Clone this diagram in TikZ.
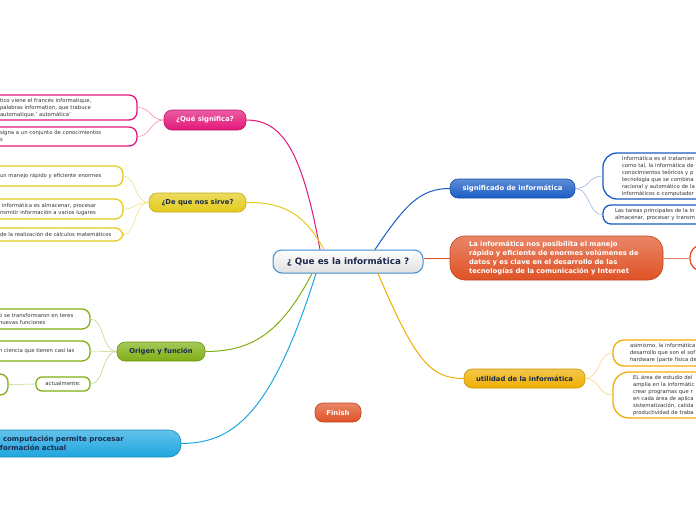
\documentclass[tikz,border=0pt]{standalone}
\usepackage{fontspec}
\setmainfont{DejaVu Sans}
\usetikzlibrary{calc}

\definecolor{rosa}{HTML}{E2177A}
\definecolor{amarillo}{HTML}{E3CB1C}
\definecolor{verde}{HTML}{7FAF14}
\definecolor{celeste}{HTML}{1FA6E0}
\definecolor{azul}{HTML}{1A5CC4}
\definecolor{naranja}{HTML}{DF5226}
\definecolor{ambar}{HTML}{F0AE00}
\definecolor{borde}{HTML}{3B8ED0}
\definecolor{gristxt}{HTML}{333333}
\definecolor{azuloscuro}{HTML}{1A2A4A}

\tikzset{
  tema/.style={draw=#1!85!black, line width=0.6pt, top color=#1!70!white, bottom color=#1,
    rounded corners=8pt, minimum height=19pt, inner sep=2pt,
    font=\fontsize{6.8}{9}\selectfont\bfseries, text=white},
  hoja/.style={draw, fill=white, rounded corners=8pt, line width=1.3pt, align=left,
    inner ysep=2pt, font=\fontsize{5.3}{7}\selectfont, text=gristxt},
  rama/.style={line width=1pt},
  sub/.style={line width=0.6pt}
}

\begin{document}
\begin{tikzpicture}[x=1pt, y=-1pt]
    \useasboundingbox (0,0) rectangle (696,520);
    \clip (0,0) rectangle (696,520);

    % Centro
    \node[draw=borde, line width=1pt, rounded corners=9pt, top color=white, bottom color=gray!25,
      minimum width=150pt, minimum height=23pt, font=\fontsize{8.8}{10}\selectfont\bfseries,
      text=azuloscuro] (ce) at (348,261.5) {¿ Que es la informática ?};

    % ¿Qué significa?
    \node[tema=rosa, minimum width=82pt, minimum height=20pt] (qs) at (205,120) {¿Qué significa?};
    \node[hoja, draw=rosa, minimum height=25pt, text width=129pt, inner xsep=8pt] (qs1) at (64.5,107.5)
      {tico viene el francés informatique,\\palabras information, que  trabuce\\automatique,' automática'};
    \node[hoja, draw=rosa, minimum height=19pt, text width=129pt, inner xsep=8pt] (qs2) at (64.5,136.5)
      {signa a un conjunto  de conocimientos\\s};

    % ¿De que nos sirve?
    \node[tema=amarillo, text=azuloscuro, minimum width=97pt] (ds) at (197.5,202.5) {¿De que nos sirve?};
    \node[hoja, draw=amarillo, minimum height=20pt, text width=115pt, inner xsep=8pt] (ds1) at (57.5,176)
      {un manejo rápido y eficiente enormes};
    \node[hoja, draw=amarillo, minimum height=20pt, text width=115pt, inner xsep=8pt] (ds2) at (57.5,209)
      {\hspace{2pt}informática es almacenar, procesar\\nsmitir información  a varios lugares};
    \node[hoja, draw=amarillo, minimum height=13pt, text width=115pt, inner xsep=8pt] (ds3) at (57.5,234.5)
      {de la realización de cálculos matemáticos};

    % Origen y función
    \node[tema=verde, text=azuloscuro, minimum width=88pt] (og) at (161,351.5) {Origen y función};
    \node[hoja, draw=verde, minimum height=20pt, text width=84pt, inner xsep=7pt] (og1) at (41,319)
      {o se transformaron en teres\\nuevas funciones};
    \node[hoja, draw=verde, minimum height=20pt, text width=84pt, inner xsep=7pt] (og2) at (41,351)
      {n ciencia que tienen casi las};
    \node[hoja, draw=verde, rounded corners=6pt, align=center, minimum width=54pt, minimum height=14pt] (og3) at (63,384)
      {actualmente:};
    \node[hoja, draw=verde, minimum width=16pt, minimum height=21pt] (og4) at (0,384.5) {};

    % Computación
    \node[tema=celeste, text=azuloscuro, rounded corners=12pt, align=left, minimum height=27pt,
      text width=161pt, inner xsep=20pt, font=\fontsize{7}{9}\selectfont\bfseries] (cp) at (80.5,443.5)
      {\hspace{3pt}computación permite procesar\\formación actual};

    % significado de informática
    \node[tema=azul, minimum width=125pt] (si) at (512.5,188.5) {significado de informática};
    \node[hoja, draw=azul, rounded corners=14pt, minimum height=46pt, text width=89pt, inner xsep=19pt] (si1) at (666.5,176)
      {Informática es el tratamien\\como tal, la informática de\\conocimientos teóricos y p\\tecnología que se combina\\racional y automático de la\\informáticos o computador};
    \node[hoja, draw=azul, minimum height=19pt, text width=103pt, inner xsep=12pt] (si2) at (666.5,214.5)
      {Las tareas principales de la in\\almacenar, procesar y transm};

    % posibilita
    \node[tema=naranja, rounded corners=15pt, align=left, minimum height=44pt, text width=175pt,
      inner xsep=19pt] (ip) at (556.5,258)
      {La informática nos posibilita el manejo\\rápido y eficiente de enormes volúmenes de\\datos y es clave en el desarrollo de las\\tecnologías de la comunicación y Internet};
    \node[hoja, draw=naranja, rounded corners=12pt, minimum width=50pt, minimum height=26pt] (ip1) at (715,258) {};

    % utilidad de la informática
    \node[tema=ambar, text=azuloscuro, minimum width=121pt] (ut) at (524.5,378.5) {utilidad de la informática};
    \node[hoja, draw=ambar, rounded corners=11pt, minimum height=26pt, text width=79pt, inner xsep=17pt] (ut1) at (669.5,353)
      {asimismo, la informática\\desarrollo que son el sof\\hardware (parte física de};
    \node[hoja, draw=ambar, rounded corners=16pt, minimum height=46pt, text width=73pt, inner xsep=20pt] (ut2) at (669.5,395)
      {EL área de estudio del\\amplia en la informátic\\crear programas que r\\en cada área de aplica\\sistematización, calida\\productividad de traba};

    % Finish
    \node[tema=naranja, minimum width=46pt] (fin) at (338,412.5) {Finish};

    % Ramas principales
    \draw[rama, rosa] ($(ce.north)+(-28,0)$) .. controls (302,150) and (282,120) .. (qs.east);
    \draw[rama, amarillo] ($(ce.north)+(-24,0)$) .. controls (305,215) and (285,202) .. (ds.east);
    \draw[rama, verde] ($(ce.south)+(-36,0)$) .. controls (280,335) and (250,351.5) .. (og.east);
    \draw[rama, celeste] ($(ce.south)+(-32,0)$) .. controls (270,420) and (230,443) .. (cp.east);
    \draw[rama, azul] ($(ce.north)+(27,0)$) .. controls (405,205) and (420,188.5) .. (si.west);
    \draw[rama, naranja] (ce.east |- ip.west) -- (ip.west);
    \draw[rama, ambar] ($(ce.south)+(30,0)$) .. controls (415,360) and (430,378.5) .. (ut.west);

    % Ramas secundarias
    \draw[sub, rosa!50] (qs.west) .. controls (150,120) and (151,107.5) .. (qs1.east);
    \draw[sub, rosa!50] (qs.west) .. controls (150,120) and (151,136.5) .. (qs2.east);
    \draw[sub, amarillo!60] (ds.west) .. controls (134,202.5) and (136,176) .. (ds1.east);
    \draw[sub, amarillo!60] (ds.west) .. controls (134,202.5) and (136,209) .. (ds2.east);
    \draw[sub, amarillo!60] (ds.west) .. controls (134,202.5) and (136,234.5) .. (ds3.east);
    \draw[sub, verde!50] (og.west) .. controls (102,351.5) and (104,319) .. (og1.east);
    \draw[sub, verde!50] (og.west) -- (og2.east);
    \draw[sub, verde!50] (og.west) .. controls (102,351.5) and (104,384) .. (og3.east);
    \draw[sub, verde!50] (og3.west) -- (og4.east);
    \draw[sub, azul!45] (si.east) .. controls (590,188.5) and (588,176) .. (si1.west);
    \draw[sub, azul!45] (si.east) .. controls (590,188.5) and (588,214.5) .. (si2.west);
    \draw[sub, naranja!70] (ip.east) -- (ip1.west);
    \draw[sub, ambar!50] (ut.east) .. controls (600,378.5) and (598,353) .. (ut1.west);
    \draw[sub, ambar!50] (ut.east) .. controls (600,378.5) and (598,395) .. (ut2.west);
\end{tikzpicture}
\end{document}
